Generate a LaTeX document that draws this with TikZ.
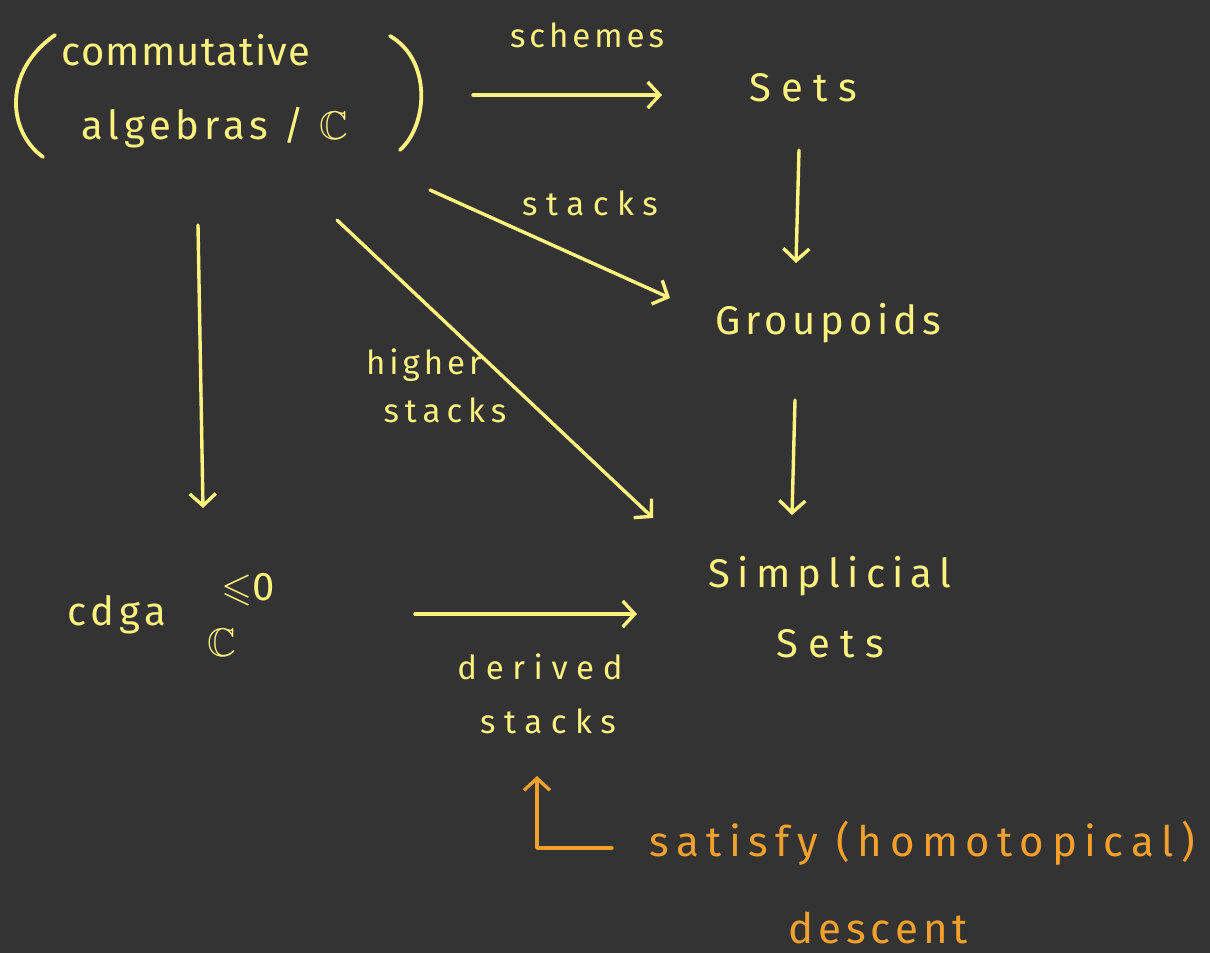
\documentclass[tikz,border=0pt]{standalone}
\usepackage{amssymb}
\usepackage{fontspec}
\setmainfont{Fira Sans}
\newfontfamily\fA{Fira Sans}[LetterSpace=3]
\newfontfamily\fB{Fira Sans}[LetterSpace=12]
\newfontfamily\fC{Fira Sans}[LetterSpace=18]
\newfontfamily\fD{Fira Sans}[LetterSpace=26]
\usetikzlibrary{arrows.meta}
\definecolor{bg}{HTML}{333333}
\definecolor{yel}{HTML}{FFF27F}
\definecolor{org}{HTML}{F5A02A}
\tikzset{
  txt/.style={text=yel, inner sep=0pt, font=\fontsize{40}{46}\selectfont\fB},
  lbl/.style={text=yel, inner sep=0pt, font=\fontsize{33}{38}\selectfont\fC},
  otxt/.style={text=org, inner sep=0pt, font=\fontsize{42}{48}\selectfont\fC},
  arr/.style={draw=yel, line width=3.4pt, line cap=round, line join=round, -{Straight Barb[length=12pt,width=26pt,line width=3.4pt]}},
  oarr/.style={draw=org, line width=3.4pt, line cap=round, line join=round, -{Straight Barb[length=12pt,width=26pt,line width=3.4pt]}},
  paren/.style={draw=yel, line width=3.8pt, line cap=round}
}
\begin{document}
\begin{tikzpicture}[x=1pt,y=-1pt]
\fill[bg] (0,0) rectangle (1210,953);
\useasboundingbox (0,0) rectangle (1210,953);

% source object
\node[minimum width=405pt, minimum height=125pt, inner sep=0pt] (alg) at (217,97) {};
\node[txt, font=\fontsize{40}{46}\selectfont\fA] (comm) at (186,50) {commutative};
\node[txt] (algl) at (215,128) {algebras / $\mathbb{C}$};
\draw[paren] (55,35) .. controls (2,72) and (8,132) .. (43,157);
\draw[paren] (390,36) .. controls (432,60) and (428,125) .. (400,150);

% targets
\node[txt, font=\fontsize{40}{46}\selectfont\fD] (sets) at (803,88) {Sets};
\node[txt] (grp) at (828,323) {Groupoids};
\node[txt, align=center, font=\fontsize{40}{46}\selectfont\fC] (simp) at (830,607) {Simplicial\\[24pt]{\fD Sets}};
\node[txt] (cdga) at (117,615) {cdga};
\node[txt] (sup) at (248,590) {$\leqslant$0};
\node[txt] (sub) at (222,643) {$\mathbb{C}$};

% labels
\node[lbl, font=\fontsize{33}{38}\selectfont\fB] (lsch) at (587,35) {schemes};
\node[lbl, font=\fontsize{33}{38}\selectfont\fD] (lstk) at (590,203) {stacks};
\node[lbl, font=\fontsize{33}{38}\selectfont\fB] (lh1) at (424,365) {higher};
\node[lbl] (lh2) at (445,410) {stacks};
\node[lbl, font=\fontsize{33}{38}\selectfont\fD] (ld1) at (540,667) {derived};
\node[lbl, font=\fontsize{33}{38}\selectfont\fD] (ld2) at (548,721) {stacks};

% arrows
\draw[arr] ([shift={(256,-2)}]alg.center) -- ([shift={(-141,7)}]sets.center);
\draw[arr] ([shift={(-4,62)}]sets.center) -- ([shift={(-32,-60)}]grp.center);
\draw[arr] ([shift={(213,93)}]alg.center) -- ([shift={(-158,-25)}]grp.center);
\draw[arr] ([shift={(120,123)}]alg.center) -- ([shift={(-177,-89)}]simp.center);
\draw[arr] ([shift={(-19,128)}]alg.center) -- ([shift={(86,-107)}]cdga.center);
\draw[arr] ([shift={(-33,77)}]grp.center) -- ([shift={(-38,-92)}]simp.center);
\draw[arr] ([shift={(298,-1)}]cdga.center) -- ([shift={(-193,7)}]simp.center);

% descent remark
\node[otxt] (sat) at (922,843) {satisfy (homotopical)};
\node[otxt, font=\fontsize{42}{48}\selectfont\fB] (desc) at (878,928) {descent};
\draw[oarr] ([shift={(-310,5)}]sat.center) -| ([shift={(-11,55)}]ld2.center);
\end{tikzpicture}
\end{document}
